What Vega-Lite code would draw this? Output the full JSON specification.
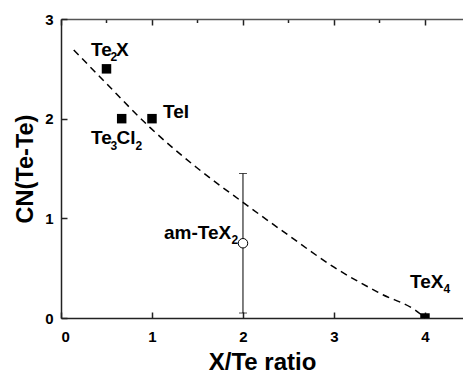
{
  "$schema": "https://vega.github.io/schema/vega-lite/v6.json",
  "width": 402,
  "height": 299,
  "autosize": {"type": "none"},
  "padding": {"left": 61, "top": 19, "right": 0, "bottom": 61},
  "background": "white",
  "config": {
    "view": {"stroke": null},
    "font": "Liberation Sans",
    "axis": {
      "grid": false,
      "domainColor": "#222222",
      "domainWidth": 1.5,
      "tickColor": "#222222",
      "tickWidth": 1.5,
      "labelFont": "Liberation Sans",
      "labelFontWeight": "bold",
      "labelFontSize": 15,
      "labelColor": "black",
      "titleFont": "Liberation Sans",
      "titleFontWeight": "bold",
      "titleColor": "black"
    }
  },
  "datasets": {
    "curve": [
      {"x": 0.14, "y": 2.69},
      {"x": 0.47, "y": 2.38},
      {"x": 0.98, "y": 1.91},
      {"x": 1.49, "y": 1.51},
      {"x": 2.0, "y": 1.16},
      {"x": 2.5, "y": 0.83},
      {"x": 3.0, "y": 0.51},
      {"x": 3.5, "y": 0.25},
      {"x": 3.95, "y": 0.04},
      {"x": 4.0, "y": 0.0}
    ],
    "squares": [
      {"x": 0.5, "y": 2.5},
      {"x": 0.667, "y": 2.0},
      {"x": 1.0, "y": 2.0},
      {"x": 4.0, "y": 0.0}
    ],
    "amorph": [
      {"x": 2.0, "y": 0.75, "lo": 0.05, "hi": 1.45}
    ],
    "labels": [
      {"x": 0.33, "y": 2.63, "text": "Te"},
      {"x": 0.604, "y": 2.63, "text": "X"},
      {"x": 1.121, "y": 2.01, "text": "TeI"},
      {"x": 0.33, "y": 1.75, "text": "Te"},
      {"x": 0.61, "y": 1.75, "text": "Cl"},
      {"x": 1.132, "y": 0.79, "text": "am-TeX"},
      {"x": 3.835, "y": 0.30, "text": "TeX"}
    ],
    "subscripts": [
      {"x": 0.544, "y": 2.58, "text": "2"},
      {"x": 0.544, "y": 1.69, "text": "3"},
      {"x": 0.819, "y": 1.69, "text": "2"},
      {"x": 1.875, "y": 0.74, "text": "2"},
      {"x": 4.203, "y": 0.25, "text": "4"}
    ]
  },
  "resolve": {"axis": {"x": "independent"}},
  "layer": [
    {
      "data": {"name": "curve"},
      "mark": {"type": "line", "color": "black", "strokeWidth": 1.5, "strokeDash": [7, 5], "interpolate": "monotone"},
      "encoding": {
        "x": {"field": "x", "type": "quantitative", "scale": {"domain": [0, 4.418], "nice": false},
          "axis": {"orient": "bottom", "title": "X/Te ratio", "titleFontSize": 24, "values": [0, 0.5, 1, 1.5, 2, 2.5, 3, 3.5, 4],
            "labelExpr": "datum.value % 1 === 0 ? datum.label : ''",
            "tickSize": {"condition": {"test": "datum.value % 1 === 0", "value": -6}, "value": -3.5},
            "labelPadding": 17, "titlePadding": 6, "format": "d"}},
        "y": {"field": "y", "type": "quantitative", "scale": {"domain": [0, 3], "nice": false},
          "axis": {"orient": "left", "title": "CN(Te-Te)", "titleFontSize": 23.5, "values": [0, 0.5, 1, 1.5, 2, 2.5, 3],
            "labelExpr": "datum.value % 1 === 0 ? datum.label : ''",
            "tickSize": {"condition": {"test": "datum.value % 1 === 0", "value": -6}, "value": -3.5},
            "labelPadding": 14, "titlePadding": 7, "format": "d"}}
      }
    },
    {
      "data": {"name": "amorph"},
      "mark": {"type": "rule", "color": "black", "strokeWidth": 1},
      "encoding": {
        "x": {"field": "x", "type": "quantitative",
          "axis": {"orient": "top", "title": null, "values": [0, 0.5, 1, 1.5, 2, 2.5, 3, 3.5, 4], "labels": false, "domainColor": "#555555",
            "tickSize": {"condition": {"test": "datum.value % 1 === 0", "value": -6}, "value": -3.5}}},
        "y": {"field": "lo", "type": "quantitative"},
        "y2": {"field": "hi"}
      }
    },
    {
      "data": {"name": "amorph"},
      "transform": [{"fold": ["lo", "hi"], "as": ["k", "v"]}],
      "mark": {"type": "tick", "color": "black", "orient": "horizontal", "size": 8, "thickness": 1},
      "encoding": {
        "x": {"field": "x", "type": "quantitative", "axis": null},
        "y": {"field": "v", "type": "quantitative"}
      }
    },
    {
      "data": {"name": "squares"},
      "mark": {"type": "square", "color": "black", "filled": true, "size": 90, "opacity": 1, "clip": true},
      "encoding": {
        "x": {"field": "x", "type": "quantitative", "axis": null},
        "y": {"field": "y", "type": "quantitative"}
      }
    },
    {
      "data": {"name": "amorph"},
      "mark": {"type": "point", "shape": "circle", "fill": "white", "stroke": "black", "strokeWidth": 1, "size": 90, "opacity": 1},
      "encoding": {
        "x": {"field": "x", "type": "quantitative", "axis": null},
        "y": {"field": "y", "type": "quantitative"}
      }
    },
    {
      "data": {"name": "labels"},
      "mark": {"type": "text", "align": "left", "baseline": "alphabetic", "fontSize": 19, "fontWeight": "bold", "font": "Liberation Sans", "color": "black"},
      "encoding": {
        "x": {"field": "x", "type": "quantitative", "axis": null},
        "y": {"field": "y", "type": "quantitative"},
        "text": {"field": "text"}
      }
    },
    {
      "data": {"name": "subscripts"},
      "mark": {"type": "text", "align": "left", "baseline": "alphabetic", "fontSize": 12, "fontWeight": "bold", "font": "Liberation Sans", "color": "black"},
      "encoding": {
        "x": {"field": "x", "type": "quantitative", "axis": null},
        "y": {"field": "y", "type": "quantitative"},
        "text": {"field": "text"}
      }
    }
  ]
}
